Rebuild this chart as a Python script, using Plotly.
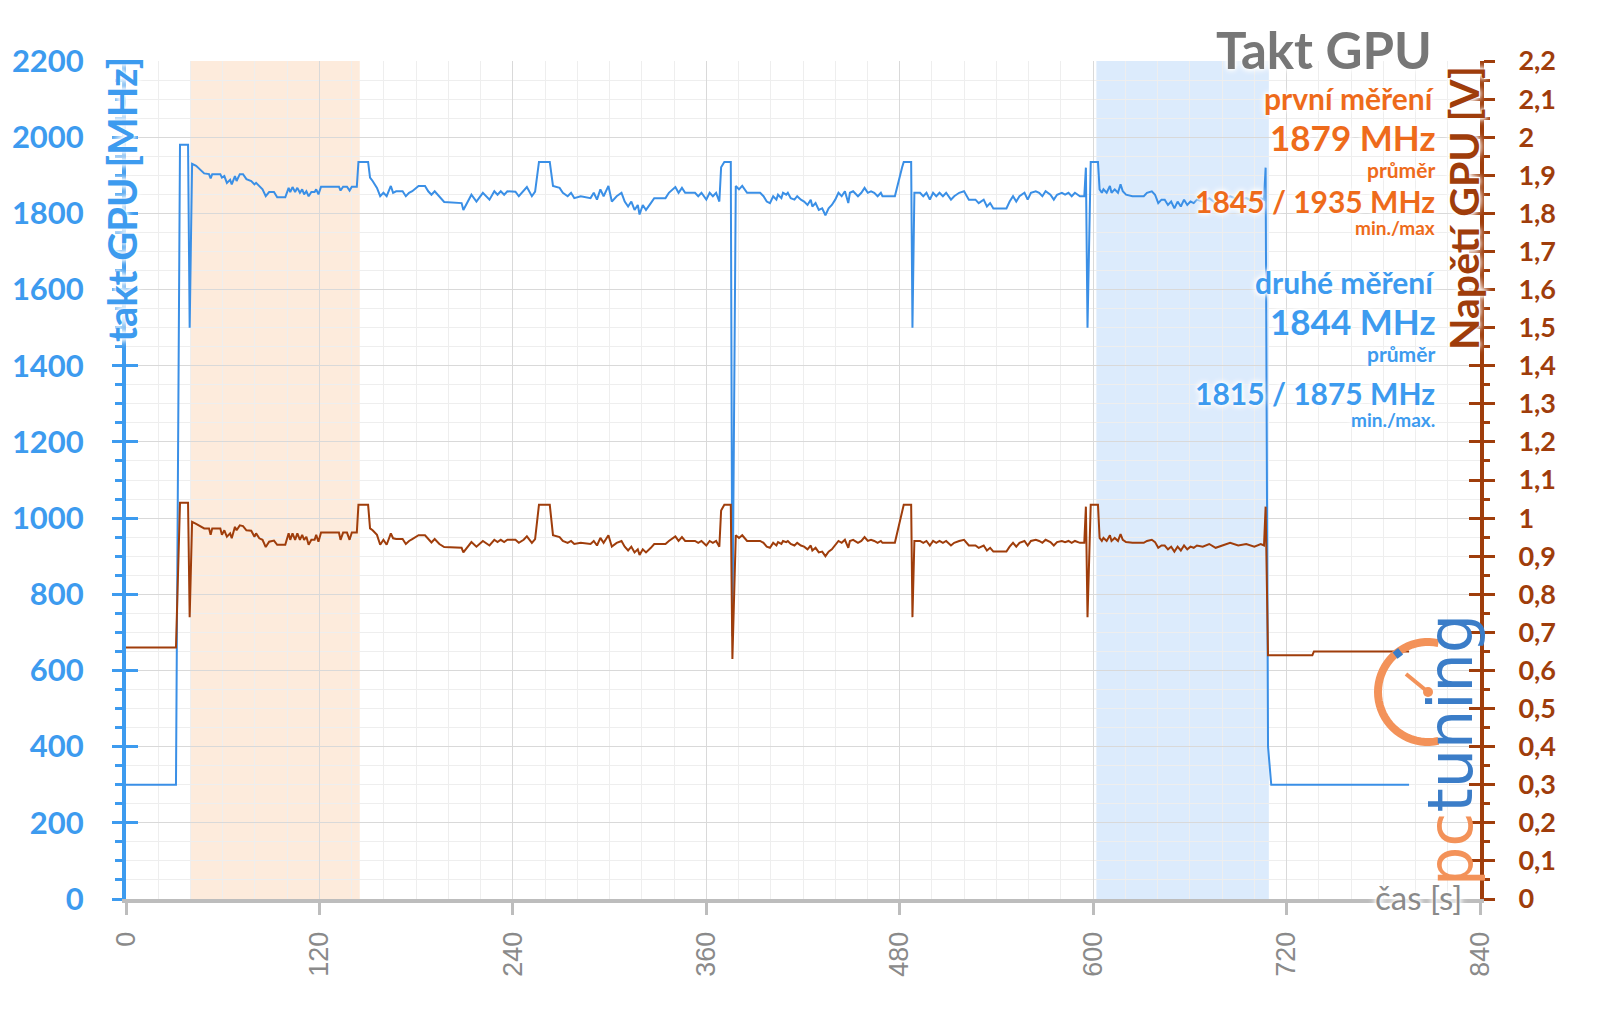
import math
import plotly.graph_objects as go

# ---------------- data ----------------
time_s = [
    0, 31, 33.5, 38.5, 39.5, 41, 43.5, 46.5, 48.5, 51.5, 52.5, 53.5, 58.5, 59.5, 61, 62.6, 64.6, 65.6,
    67.6, 68.6, 70.6, 72.6, 74.7, 77.7, 79.7, 80.7, 82.7, 84.7, 86.7, 88.8, 91.8, 93.8, 98.8, 100.9,
    101.9, 103.3, 104.9, 106.3, 107.9, 109.3, 110.5, 111.9, 113.3, 115, 117, 118, 119.4, 121, 132.1,
    133.1, 134.7, 137.1, 138.7, 140.1, 143.2, 144.2, 150.2, 151.4, 153, 155.7, 157.7, 159.7, 161.7,
    164.3, 165.7, 167.6, 171.6, 173.6, 175.6, 177.6, 181.5, 185.5, 187.5, 189.5, 191.5, 194.4, 197.4,
    208.2, 209.3, 214.3, 217.4, 221.4, 225.5, 228.5, 230.5, 232.5, 234.6, 236.6, 241.6, 243.7, 246.7,
    248.7, 251.8, 253.8, 256.2, 262.9, 264.9, 269, 271, 274, 276.1, 278.1, 282.1, 288.2, 290.2, 292.2,
    294.3, 296.3, 299.3, 301.4, 304.4, 307.4, 309.4, 311.5, 313.5, 315.5, 317.5, 318.6, 320.6, 322.6,
    325.6, 327.7, 334.7, 336.8, 340.8, 342.8, 344.9, 346.9, 353, 355, 357, 360, 362.1, 364.1, 366.1,
    368.1, 369.2, 371.2, 375.2, 376.2, 378.3, 380.3, 382.3, 385.3, 393.4,
    395.5, 397.5, 399.5, 401.5, 403.5, 404.5, 406.6, 407.6, 409.6, 410.6, 412.4, 414.7, 416.4, 418.7,
    420.7, 422.8, 424.8, 425.8, 427.8, 429.8, 431.9, 433.9, 435.9, 437.9, 440, 442, 444, 446, 448.1,
    449.1, 451.1, 454.1, 456.2, 458.2, 460.2, 462.2, 464.2, 466.3, 468.3, 469.3, 477, 481.5, 482.5,
    487.1, 487.9, 489.1, 492.6, 494.6, 496.6, 498.7, 500.7, 502.7, 504.7, 506.8, 508.8, 511.8, 513.8,
    516.9, 519.9, 522.9, 527, 529, 532.1, 534.1, 536.1, 538.1, 546.2, 548.2, 550.3, 552.3, 554.3,
    557.4, 559.4, 561.4, 564.4, 566.5, 568.5, 570.5, 573.5, 575.6, 577.6, 580.6, 582.6, 584.7, 586.7,
    588.7, 591.8, 594.5, 595.5, 596.5, 598.5, 603, 604,
    605.4, 606.4, 608.4, 610.4, 611.4, 613.4, 615.4, 617, 618.4, 620.4, 624.4, 631.4, 633.4, 636.4,
    638.4, 640.4, 642.4, 644.4, 646.4, 648.4, 650.4, 652.4, 654.4, 656.4, 658.4, 660.4, 662.4, 664.4,
    668, 672, 676, 680, 685, 690, 695, 700, 704, 706, 707, 708.5, 710.5, 736, 737, 796,
]

clock_mhz = [
    300, 300, 1980, 1980, 1500, 1930, 1925, 1912, 1905, 1903, 1892, 1903, 1903, 1894, 1898, 1880, 1888, 1876,
    1898, 1885, 1903, 1903, 1890, 1885, 1876, 1880, 1872, 1863, 1845, 1856, 1856, 1842, 1842, 1867,
    1856, 1869, 1856, 1867, 1854, 1863, 1850, 1858, 1845, 1856, 1856, 1863, 1850, 1870, 1870,
    1860, 1870, 1870, 1860, 1870, 1870, 1935, 1935, 1894, 1885, 1867, 1845, 1854, 1845,
    1872, 1854, 1858, 1858, 1845, 1854, 1858, 1872, 1872, 1858, 1849, 1858, 1845, 1830,
    1827, 1809, 1849, 1831, 1854, 1836, 1858, 1849, 1858, 1849, 1858, 1857, 1845, 1858,
    1869, 1845, 1857, 1935, 1935, 1872, 1867, 1854, 1845, 1854, 1840, 1845, 1840, 1854, 1836,
    1863, 1845, 1872, 1831, 1845, 1854, 1831, 1818, 1831, 1809, 1822, 1797, 1822, 1809,
    1827, 1840, 1840, 1854, 1869, 1854, 1867, 1854, 1854, 1845, 1854, 1836, 1854, 1845, 1854,
    1831, 1921, 1935, 1935, 690, 1872, 1863, 1872, 1854, 1854,
    1845, 1831, 1827, 1845, 1836, 1849, 1840, 1854, 1849, 1854, 1840, 1836, 1845, 1836,
    1831, 1822, 1836, 1818, 1827, 1809, 1813, 1795, 1813, 1822, 1836, 1854, 1845, 1858, 1827,
    1854, 1858, 1845, 1854, 1867, 1854, 1858, 1854, 1845, 1854, 1845, 1845, 1921, 1935,
    1935, 1500, 1854, 1854, 1845, 1854, 1836, 1854, 1845, 1854, 1845, 1854, 1836, 1845,
    1854, 1858, 1836, 1836, 1827, 1836, 1818, 1827, 1813, 1813, 1831, 1845, 1831, 1845,
    1854, 1836, 1854, 1858, 1854, 1845, 1858, 1849, 1836, 1849, 1854, 1849, 1854, 1845,
    1854, 1845, 1845, 1920, 1500, 1935, 1935, 1863,
    1854, 1863, 1854, 1872, 1854, 1863, 1854, 1876, 1858, 1849, 1845, 1845, 1854, 1858,
    1849, 1827, 1836, 1836, 1822, 1831, 1813, 1831, 1818, 1836, 1822, 1831, 1827, 1836,
    1831, 1840, 1827, 1836, 1845, 1836, 1840, 1831, 1840, 1836, 1920, 400, 300, 300, 300, 300,
]

voltage_v = [
    0.66, 0.66, 1.04, 1.04, 0.74, 0.99, 0.985, 0.977, 0.973, 0.973, 0.956, 0.973, 0.973, 0.956, 0.968, 0.951, 0.960, 0.947,
    0.977, 0.968, 0.981, 0.979, 0.968, 0.967, 0.951, 0.960, 0.947, 0.943, 0.924, 0.938, 0.941, 0.930, 0.930, 0.960,
    0.943, 0.960, 0.943, 0.960, 0.943, 0.956, 0.943, 0.951, 0.930, 0.943, 0.943, 0.956, 0.938, 0.962, 0.962,
    0.943, 0.962, 0.962, 0.943, 0.962, 0.962, 1.035, 1.035, 0.973, 0.968, 0.956, 0.930, 0.943, 0.930,
    0.960, 0.947, 0.945, 0.945, 0.932, 0.940, 0.945, 0.955, 0.955, 0.945, 0.936, 0.945, 0.932, 0.924,
    0.922, 0.910, 0.937, 0.925, 0.940, 0.928, 0.943, 0.937, 0.943, 0.937, 0.943, 0.943, 0.935, 0.943,
    0.952, 0.935, 0.945, 1.035, 1.035, 0.955, 0.950, 0.940, 0.935, 0.940, 0.932, 0.935, 0.932, 0.940, 0.928,
    0.948, 0.935, 0.955, 0.925, 0.935, 0.940, 0.925, 0.915, 0.925, 0.910, 0.918, 0.903, 0.918, 0.910,
    0.922, 0.932, 0.932, 0.940, 0.952, 0.940, 0.950, 0.940, 0.940, 0.935, 0.940, 0.928, 0.940, 0.935, 0.940,
    0.925, 1.020, 1.035, 1.035, 0.63, 0.955, 0.948, 0.955, 0.940, 0.940,
    0.935, 0.925, 0.922, 0.935, 0.928, 0.937, 0.932, 0.940, 0.937, 0.940, 0.932, 0.928, 0.935, 0.928,
    0.925, 0.918, 0.928, 0.915, 0.922, 0.910, 0.912, 0.900, 0.912, 0.918, 0.928, 0.940, 0.935, 0.943, 0.922,
    0.940, 0.943, 0.935, 0.940, 0.950, 0.940, 0.943, 0.940, 0.935, 0.940, 0.935, 0.935, 1.020, 1.035,
    1.035, 0.74, 0.940, 0.940, 0.935, 0.940, 0.928, 0.940, 0.935, 0.940, 0.935, 0.940, 0.928, 0.935,
    0.940, 0.943, 0.928, 0.928, 0.922, 0.928, 0.915, 0.922, 0.912, 0.912, 0.925, 0.935, 0.925, 0.935,
    0.940, 0.928, 0.940, 0.943, 0.940, 0.935, 0.943, 0.937, 0.928, 0.937, 0.940, 0.937, 0.940, 0.935,
    0.940, 0.935, 0.935, 1.030, 0.74, 1.035, 1.035, 0.948,
    0.940, 0.948, 0.940, 0.955, 0.940, 0.948, 0.940, 0.958, 0.943, 0.937, 0.935, 0.935, 0.940, 0.943,
    0.937, 0.922, 0.928, 0.928, 0.918, 0.925, 0.912, 0.925, 0.915, 0.928, 0.918, 0.925, 0.922, 0.928,
    0.925, 0.932, 0.922, 0.928, 0.935, 0.928, 0.932, 0.925, 0.932, 0.928, 1.030, 0.64, 0.64, 0.64, 0.65, 0.65,
]

# shaded measurement windows [start, end] in seconds
first_window_s = [40, 145]
second_window_s = [602, 709]

x_tick_vals = [0, 120, 240, 360, 480, 600, 720, 840]
x_tick_text = ["0", "120", "240", "360", "480", "600", "720", "840"]
clock_tick_vals = [0, 200, 400, 600, 800, 1000, 1200, 1400, 1600, 1800, 2000, 2200]
clock_tick_text = ["0", "200", "400", "600", "800", "1000", "1200", "1400", "1600", "1800", "2000", "2200"]
volt_tick_vals = [0, 0.1, 0.2, 0.3, 0.4, 0.5, 0.6, 0.7, 0.8, 0.9, 1.0, 1.1, 1.2, 1.3, 1.4, 1.5,
                  1.6, 1.7, 1.8, 1.9, 2.0, 2.1, 2.2]
volt_tick_text = ["0", "0,1", "0,2", "0,3", "0,4", "0,5", "0,6", "0,7", "0,8", "0,9", "1", "1,1",
                  "1,2", "1,3", "1,4", "1,5", "1,6", "1,7", "1,8", "1,9", "2", "2,1", "2,2"]

# ---------------- styling ----------------
BLUE = "#3d9bef"
BLUE_LINE = "#3a8fe6"
BROWN = "#9f3d0b"
ORANGE = "#ee6b1b"
GRAY = "#8a8a8a"
TITLE_GRAY = "#777777"
GLOW = "0 0 3px #ffffff, 0 0 5px #ffffff, 0 0 7px #ffffff, 0 0 9px #ffffff"
FONT = "Lato"

W, H = 1600, 1009
ML, MR, MT, MB = 118, 128, 53, 118
PW, PH = W - ML - MR, H - MT - MB


def px(x):
    return (x - ML) / PW


def py(y):
    return (H - MB - y) / PH


fig = go.Figure()

fig.add_trace(go.Scatter(
    x=time_s, y=clock_mhz, mode="lines", name="takt GPU",
    line=dict(color=BLUE_LINE, width=2), yaxis="y", showlegend=False, hoverinfo="skip"))
fig.add_trace(go.Scatter(
    x=time_s, y=voltage_v, mode="lines", name="napětí GPU",
    line=dict(color=BROWN, width=2), yaxis="y2", showlegend=False, hoverinfo="skip"))
# helper traces so the overlay tick axes are drawn
fig.add_trace(go.Scatter(x=[0], y=[0], yaxis="y3", mode="markers", marker=dict(opacity=0),
                         showlegend=False, hoverinfo="skip"))
fig.add_trace(go.Scatter(x=[0], y=[0], yaxis="y4", mode="markers", marker=dict(opacity=0),
                         showlegend=False, hoverinfo="skip"))

shapes = [
    dict(type="rect", xref="x", yref="paper", x0=first_window_s[0], x1=first_window_s[1], y0=0, y1=1,
         fillcolor="#fdebdc", line=dict(width=0), layer="below"),
    dict(type="rect", xref="x", yref="paper", x0=second_window_s[0], x1=second_window_s[1], y0=0, y1=1,
         fillcolor="#dcebfc", line=dict(width=0), layer="below"),
]

# pctuning logo: clock arc + needle
cx, cy, r = 1420, 684, 50
pts = []
for k in range(0, 41):
    a = math.radians(78 + k * (204 / 40))
    pts.append((px(cx + r * math.cos(a)), py(cy - r * math.sin(a))))
path = "M " + " L ".join(f"{a:.5f},{b:.5f}" for a, b in pts)
shapes.append(dict(type="path", xref="paper", yref="paper", path=path,
                   line=dict(color="#f39259", width=8), layer="above"))
shapes.append(dict(type="line", xref="paper", yref="paper", x0=px(cx), y0=py(cy), x1=px(cx - 22), y1=py(cy - 18),
                   line=dict(color="#f39259", width=4), layer="above"))
shapes.append(dict(type="circle", xref="paper", yref="paper", x0=px(cx - 5), x1=px(cx + 5), y0=py(cy + 5), y1=py(cy - 5),
                   fillcolor="#f39259", line=dict(width=0), layer="above"))
a = math.radians(128)
shapes.append(dict(type="line", xref="paper", yref="paper",
                   x0=px(cx + (r - 5) * math.cos(a)), y0=py(cy - (r - 5) * math.sin(a)),
                   x1=px(cx + (r + 3) * math.cos(a)), y1=py(cy - (r + 3) * math.sin(a)),
                   line=dict(color="#3b7dc8", width=7), layer="above"))


def ann(text, x, y, size, color, xanchor="right", weight="bold", angle=0, family=FONT, glow=True):
    f = dict(family=family, size=size, color=color, weight=weight)
    if glow:
        f["shadow"] = GLOW
    return dict(text=text, xref="paper", yref="paper", x=px(x), y=py(y), xanchor=xanchor,
                yanchor="middle", showarrow=False, font=f, textangle=angle)


annotations = [
    ann("Takt GPU", 1426, 42, 51, TITLE_GRAY),
    ann("první měření", 1429, 90, 30, ORANGE),
    ann("1879 MHz", 1429, 129, 35, ORANGE),
    ann("průměr", 1429, 161, 21, ORANGE),
    ann("1845 / 1935 MHz", 1429, 193, 30, ORANGE),
    ann("min./max", 1429, 220, 19, ORANGE),
    ann("druhé měření", 1429, 274, 30, BLUE),
    ann("1844 MHz", 1429, 313, 35, BLUE),
    ann("průměr", 1429, 345, 21, BLUE),
    ann("1815 / 1875 MHz", 1429, 385, 30, BLUE),
    ann("min./max.", 1429, 412, 19, BLUE),
    ann("takt GPU [MHz]", 114, 192, 40, BLUE, xanchor="center", angle=-90),
    ann("Napětí GPU [V]", 1455, 200, 41, BROWN, xanchor="center", angle=-90),
    ann("čas [s]", 1410, 889, 33, GRAY, xanchor="center", weight="normal"),
    ann("<span style='color:#f39259'>pc</span><span style='color:#3b7dc8'>tuning</span>",
        1442, 742, 62, "#3b7dc8", xanchor="center", weight="normal", angle=-90,
        family="DejaVu Sans", glow=False),
]

fig.update_layout(
    width=W, height=H, autosize=False,
    margin=dict(l=ML, r=MR, t=MT, b=MB, pad=0, autoexpand=False),
    paper_bgcolor="white", plot_bgcolor="white",
    showlegend=False,
    shapes=shapes, annotations=annotations,
    xaxis=dict(
        range=[0, 840], tickmode="array", tickvals=x_tick_vals, ticktext=x_tick_text,
        tickangle=-90, tickfont=dict(family="Liberation Sans", size=27, color=GRAY),
        ticks="outside", ticklen=12, tickwidth=3, tickcolor="#bdbdbd",
        showline=True, linecolor="#bdbdbd", linewidth=4, zeroline=False,
        showgrid=True, gridcolor="#d9d9d9", gridwidth=1, automargin=False,
        minor=dict(tickmode="linear", tick0=0, dtick=20, showgrid=True, gridcolor="#eeeeee", ticks=""),
        ticklabelstandoff=6,
    ),
    yaxis=dict(
        range=[0, 2200], tickmode="array", tickvals=clock_tick_vals, ticktext=clock_tick_text,
        tickfont=dict(family=FONT, size=31, color=BLUE, weight="bold"),
        ticks="outside", ticklen=10, tickwidth=3, tickcolor=BLUE, automargin=False,
        showline=True, linecolor=BLUE, linewidth=4, zeroline=False,
        showgrid=True, gridcolor="#d9d9d9", gridwidth=1,
        minor=dict(tickmode="linear", tick0=0, dtick=50, showgrid=True, gridcolor="#eeeeee",
                   ticks="outside", ticklen=7, tickwidth=3, tickcolor=BLUE),
        ticklabelstandoff=22,
    ),
    yaxis2=dict(
        range=[0, 2.2], overlaying="y", side="right", anchor="x", automargin=False,
        tickmode="array", tickvals=volt_tick_vals, ticktext=volt_tick_text,
        tickfont=dict(family=FONT, size=27, color=BROWN, weight="bold"),
        ticks="outside", ticklen=11, tickwidth=3, tickcolor=BROWN,
        showline=True, linecolor=BROWN, linewidth=4, zeroline=False, showgrid=False,
        minor=dict(tickmode="linear", tick0=0, dtick=0.05, ticks="outside", ticklen=6,
                   tickwidth=3, tickcolor=BROWN, showgrid=False),
        ticklabelstandoff=18,
    ),
    yaxis3=dict(
        range=[0, 2200], overlaying="y", side="left", anchor="x", automargin=False,
        tickmode="array", tickvals=clock_tick_vals, ticks="inside", ticklen=12, tickwidth=3,
        tickcolor=BLUE, showticklabels=False, showgrid=False, showline=False, zeroline=False,
    ),
    yaxis4=dict(
        range=[0, 2.2], overlaying="y", side="right", anchor="x", automargin=False,
        tickmode="array", tickvals=volt_tick_vals, ticks="inside", ticklen=11, tickwidth=3,
        tickcolor=BROWN, showticklabels=False, showgrid=False, showline=False, zeroline=False,
    ),
)

fig.write_html("out.html")
